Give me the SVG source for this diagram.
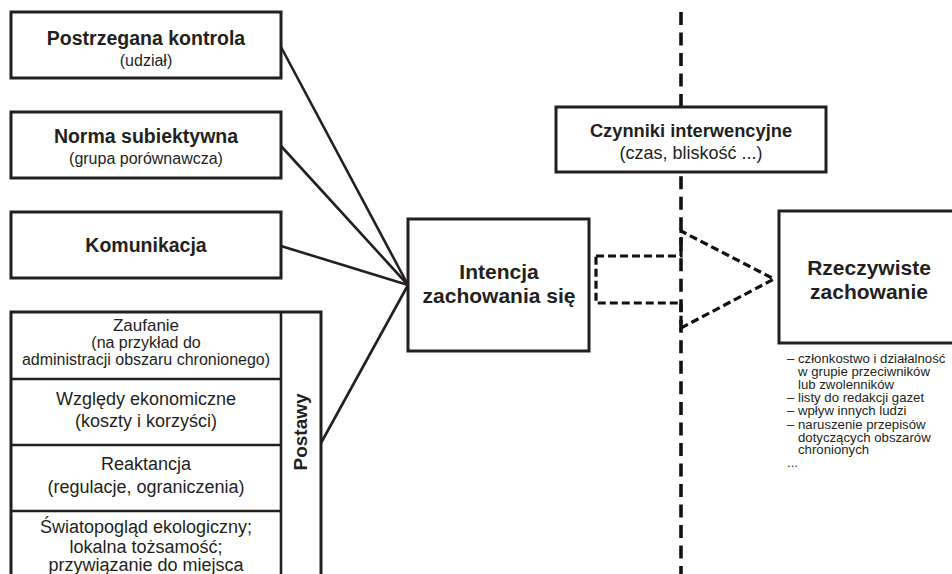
<svg xmlns="http://www.w3.org/2000/svg" width="952" height="574" viewBox="0 0 952 574">
<style>
.box{fill:#fff;stroke:#231f20;stroke-width:3}
.ln{stroke:#231f20;stroke-width:2.6;fill:none}
text{font-family:"Liberation Sans",Arial,sans-serif;fill:#231f20;text-anchor:middle}
.b{font-weight:bold}
.l{text-anchor:start;font-size:13.2px}
</style>
<rect width="952" height="574" fill="#fff"/>
<g id="divider">
<line x1="681" y1="12" x2="681" y2="574" stroke="#111" stroke-width="3.6" stroke-dasharray="13 7.52"/>
</g>
<g id="connectors">
<line class="ln" x1="281" y1="47" x2="408" y2="285"/>
<line class="ln" x1="281" y1="146" x2="408" y2="285"/>
<line class="ln" x1="281" y1="246" x2="408" y2="285"/>
<line class="ln" x1="321" y1="443" x2="408" y2="285"/>
<polygon points="596,256 681,256 681,231 774,279 681,328 681,303 596,303" fill="none" stroke="#111" stroke-width="3.2" stroke-dasharray="8 4"/>
</g>
<g id="kontrola">
<rect class="box" x="11" y="12" width="270" height="66"/>
<text class="b" x="146" y="45" font-size="19.5">Postrzegana kontrola</text>
<text x="146" y="66" font-size="16">(udział)</text>
</g>
<g id="norma">
<rect class="box" x="11" y="112" width="270" height="66"/>
<text class="b" x="146" y="143" font-size="19.5">Norma subiektywna</text>
<text x="146" y="164" font-size="16">(grupa porównawcza)</text>
</g>
<g id="komunikacja">
<rect class="box" x="11" y="212" width="270" height="66"/>
<text class="b" x="146" y="252" font-size="19.5">Komunikacja</text>
</g>
<g id="postawy">
<rect class="box" x="11" y="312" width="310" height="270"/>
<line class="ln" x1="281" y1="312" x2="281" y2="574" stroke-width="3"/>
<line class="ln" x1="11" y1="379" x2="281" y2="379" stroke-width="3"/>
<line class="ln" x1="11" y1="445" x2="281" y2="445" stroke-width="3"/>
<line class="ln" x1="11" y1="511" x2="281" y2="511" stroke-width="3"/>
<text class="b" font-size="19" transform="translate(307,432) rotate(-90)">Postawy</text>
<text x="146" y="331" font-size="17">Zaufanie</text>
<text x="146" y="348" font-size="16">(na przykład do</text>
<text x="146" y="365" font-size="16">administracji obszaru chronionego)</text>
<text x="146" y="405" font-size="18">Względy ekonomiczne</text>
<text x="146" y="427" font-size="18">(koszty i korzyści)</text>
<text x="146" y="470" font-size="18">Reaktancja</text>
<text x="146" y="493" font-size="18">(regulacje, ograniczenia)</text>
<text x="146" y="533" font-size="18">Światopogląd ekologiczny;</text>
<text x="146" y="553" font-size="18">lokalna tożsamość;</text>
<text x="146" y="571" font-size="18">przywiązanie do miejsca</text>
</g>
<g id="intencja">
<rect class="box" x="408" y="219" width="181" height="132"/>
<text class="b" x="499" y="279" font-size="21">Intencja</text>
<text class="b" x="499" y="303" font-size="21">zachowania się</text>
</g>
<g id="czynniki">
<rect class="box" x="556" y="107" width="270" height="65"/>
<text class="b" x="691" y="137" font-size="18.3">Czynniki interwencyjne</text>
<text x="691" y="159" font-size="18">(czas, bliskość ...)</text>
</g>
<g id="rzeczywiste">
<rect class="box" x="779" y="211" width="190" height="132"/>
<text class="b" x="869" y="275" font-size="21">Rzeczywiste</text>
<text class="b" x="869" y="299" font-size="21">zachowanie</text>
</g>
<g id="lista">
<text class="l" x="787" y="363">– członkostwo i działalność</text>
<text class="l" x="798" y="376">w grupie przeciwników</text>
<text class="l" x="798" y="389">lub zwolenników</text>
<text class="l" x="787" y="402">– listy do redakcji gazet</text>
<text class="l" x="787" y="415">– wpływ innych ludzi</text>
<text class="l" x="787" y="429">– naruszenie przepisów</text>
<text class="l" x="798" y="442">dotyczących obszarów</text>
<text class="l" x="798" y="454">chronionych</text>
<text class="l" x="787" y="467">...</text>
</g>
</svg>
